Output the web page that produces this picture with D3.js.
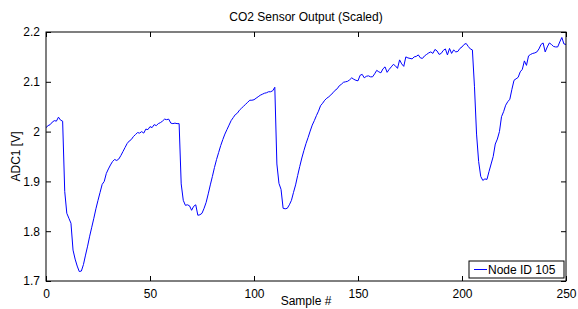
<!DOCTYPE html>
<html>
<head>
<meta charset="utf-8">
<script src="https://cdn.jsdelivr.net/npm/d3@7"></script>
<style>
  body { margin: 0; background: #fff; }
  text { font-family: "Liberation Sans", Arial, Helvetica, sans-serif; }
</style>
</head>
<body>
<div id="chart"></div>
<script>
// 数据
const title = "CO2 Sensor Output (Scaled)";
const seriesName = "Node ID 105";
const xTicks = [0, 50, 100, 150, 200, 250];
const yTicks = [1.7, 1.8, 1.9, 2.0, 2.1, 2.2];
const yTickLabels = ["1.7", "1.8", "1.9", "2", "2.1", "2.2"];

// ADC1 voltage per sample, index = sample #
const adc1 = [
  2.008, 2.012, 2.014, 2.019, 2.022, 2.021, 2.029, 2.023, 2.021, 1.880,
  1.836, 1.826, 1.816, 1.762, 1.744, 1.730, 1.719, 1.720, 1.733, 1.752,
  1.770, 1.790, 1.808, 1.826, 1.845, 1.862, 1.878, 1.894, 1.900, 1.916,
  1.925, 1.933, 1.940, 1.944, 1.942, 1.945, 1.952, 1.960, 1.968, 1.976,
  1.981, 1.984, 1.990, 1.994, 1.998, 1.997, 2.000, 1.997, 2.005, 2.004,
  2.010, 2.008, 2.014, 2.012, 2.016, 2.018, 2.021, 2.025, 2.024, 2.025,
  2.017, 2.016, 2.017, 2.016, 2.016, 1.895, 1.862, 1.852, 1.853, 1.851,
  1.842, 1.850, 1.853, 1.832, 1.833, 1.836, 1.846, 1.858, 1.875, 1.893,
  1.910, 1.928, 1.944, 1.958, 1.972, 1.984, 1.995, 2.004, 2.013, 2.022,
  2.028, 2.034, 2.037, 2.043, 2.047, 2.051, 2.055, 2.059, 2.063, 2.063,
  2.064, 2.067, 2.070, 2.073, 2.075, 2.077, 2.078, 2.080, 2.080, 2.082,
  2.089, 1.935, 1.896, 1.884, 1.846, 1.845, 1.846, 1.853, 1.862, 1.878,
  1.893, 1.912, 1.930, 1.947, 1.962, 1.976, 1.988, 2.001, 2.013, 2.022,
  2.032, 2.041, 2.052, 2.057, 2.063, 2.067, 2.070, 2.074, 2.078, 2.083,
  2.086, 2.092, 2.095, 2.099, 2.100, 2.101, 2.104, 2.108, 2.105, 2.103,
  2.102, 2.113, 2.115, 2.108, 2.111, 2.112, 2.110, 2.110, 2.116, 2.123,
  2.120, 2.118, 2.126, 2.130, 2.119, 2.125, 2.130, 2.135, 2.132, 2.127,
  2.144, 2.136, 2.131, 2.150, 2.148, 2.147, 2.146, 2.150, 2.151, 2.154,
  2.148, 2.147, 2.152, 2.155, 2.158, 2.160, 2.157, 2.165, 2.162, 2.155,
  2.157, 2.163, 2.166, 2.154, 2.167, 2.157, 2.164, 2.160, 2.161, 2.167,
  2.170, 2.175, 2.177, 2.171, 2.166, 2.164, 2.090, 1.995, 1.940, 1.910,
  1.902, 1.905, 1.904, 1.920, 1.935, 1.950, 1.975, 1.985, 2.000, 2.030,
  2.040, 2.053, 2.060, 2.065, 2.085, 2.103, 2.106, 2.109, 2.120, 2.125,
  2.142, 2.133, 2.152, 2.155, 2.157, 2.158, 2.160, 2.166, 2.175, 2.178,
  2.160, 2.170, 2.178, 2.175, 2.171, 2.170, 2.170, 2.180, 2.189, 2.176,
  2.175
];

const width = 578;
const height = 309;
const margin = { top: 32, right: 12, bottom: 28, left: 46 };
const plotW = width - margin.left - margin.right;
const plotH = height - margin.top - margin.bottom;

const svg = d3
  .select("#chart")
  .append("svg")
  .attr("width", width)
  .attr("height", height);

const x = d3.scaleLinear().domain([0, 250]).range([0, plotW]);
const y = d3.scaleLinear().domain([1.7, 2.2]).range([plotH, 0]);

const g = svg
  .append("g")
  .attr("transform", `translate(${margin.left},${margin.top})`);

// 曲线
const line = d3
  .line()
  .x((d, i) => x(i))
  .y((d) => y(d));

g.append("path")
  .datum(adc1)
  .attr("fill", "none")
  .attr("stroke", "#0000ff")
  .attr("stroke-width", 1)
  .attr("stroke-linejoin", "round")
  .attr("d", line);

// 坐标轴 (matlab风格: 刻度朝内, 四边都有)
const tickLen = 5;
const fmtY = (d, i) => yTickLabels[i];

const axBottom = g
  .append("g")
  .attr("transform", `translate(0,${plotH})`)
  .call(d3.axisBottom(x).tickValues(xTicks).tickSizeInner(-tickLen).tickSizeOuter(0).tickPadding(8));
const axTop = g
  .append("g")
  .call(d3.axisTop(x).tickValues(xTicks).tickSizeInner(-tickLen).tickSizeOuter(0).tickFormat(""));
const axLeft = g
  .append("g")
  .call(d3.axisLeft(y).tickValues(yTicks).tickSizeInner(-tickLen).tickSizeOuter(0).tickPadding(6).tickFormat(fmtY));
const axRight = g
  .append("g")
  .attr("transform", `translate(${plotW},0)`)
  .call(d3.axisRight(y).tickValues(yTicks).tickSizeInner(-tickLen).tickSizeOuter(0).tickFormat(""));

[axBottom, axTop, axLeft, axRight].forEach((ax) => {
  ax.select(".domain").remove();
  ax.selectAll("line").attr("stroke", "#000");
  ax.selectAll("text").attr("fill", "#000").attr("font-size", "12px")
    .attr("font-family", "'Liberation Sans', Arial, sans-serif");
});

// 外框
g.append("rect")
  .attr("x", 0)
  .attr("y", 0)
  .attr("width", plotW)
  .attr("height", plotH)
  .attr("fill", "none")
  .attr("stroke", "#000")
  .attr("stroke-width", 1);

// 标题和轴标签
svg.append("text")
  .attr("x", margin.left + plotW / 2)
  .attr("y", 21)
  .attr("text-anchor", "middle")
  .attr("font-size", "12px")
  .text(title);

svg.append("text")
  .attr("x", margin.left + plotW / 2)
  .attr("y", 305)
  .attr("text-anchor", "middle")
  .attr("font-size", "12px")
  .text("Sample #");

svg.append("text")
  .attr("transform", `translate(20,${margin.top + plotH / 2}) rotate(-90)`)
  .attr("text-anchor", "middle")
  .attr("font-size", "12px")
  .text("ADC1 [V]");

// 图例
const legend = svg.append("g").attr("transform", "translate(469,261)");
legend.append("rect")
  .attr("width", 95)
  .attr("height", 17)
  .attr("fill", "#fff")
  .attr("stroke", "#000");
legend.append("line")
  .attr("x1", 5)
  .attr("x2", 18)
  .attr("y1", 8.5)
  .attr("y2", 8.5)
  .attr("stroke", "#0000ff");
legend.append("text")
  .attr("x", 19)
  .attr("y", 13)
  .attr("font-size", "12px")
  .text(seriesName);
</script>
</body>
</html>
